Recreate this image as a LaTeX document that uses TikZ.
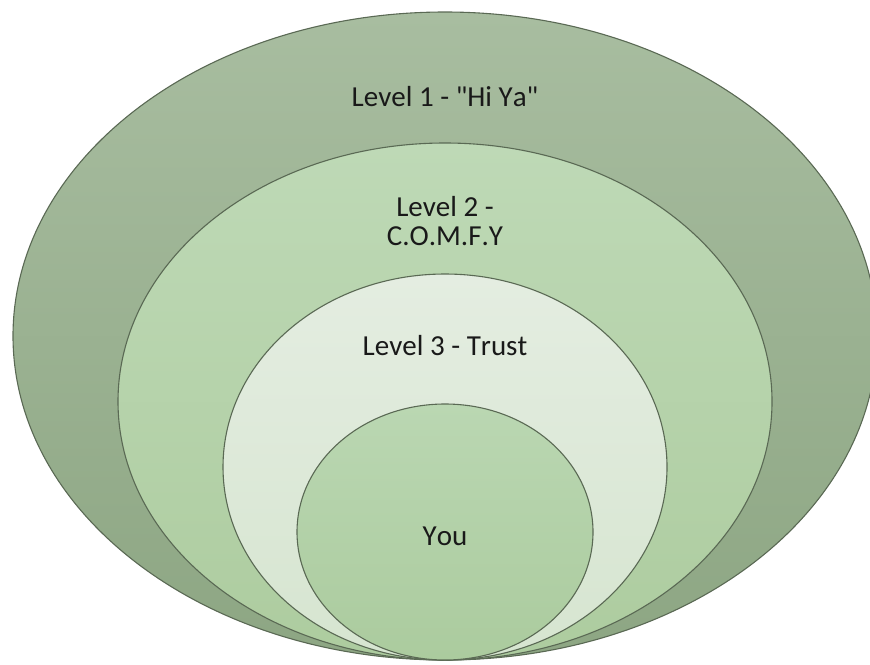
\documentclass[tikz,border=0pt]{standalone}
\usepackage{fontspec}
\setmainfont{Carlito}[Ligatures=TeXOff, Kerning=Off]
\usepackage{tikz}
\usetikzlibrary{
    positioning,             % For relative placement of nodes
    calc                     % For coordinate calculations
}

\definecolor{ringedge}{HTML}{5A6954}
\definecolor{lvlonetop}{HTML}{A8BDA0}
\definecolor{lvlonebot}{HTML}{8DA683}
\definecolor{lvltwotop}{HTML}{BED9B6}
\definecolor{lvltwobot}{HTML}{ADCC9F}
\definecolor{lvlthreetop}{HTML}{E4EDE1}
\definecolor{lvlthreebot}{HTML}{D6E5D0}
\definecolor{youtop}{HTML}{BAD7B2}
\definecolor{youbot}{HTML}{ABCB9E}

\begin{document}
\begin{tikzpicture}[
    x=0.5pt, y=-0.5pt,
    font=\fontsize{14.5}{14.5}\selectfont,
    ring/.style={draw=ringedge, line width=0.55pt},
    ringlabel/.style={align=center, text=black!90, inner sep=1pt}
]
    \useasboundingbox (0,0) rectangle (870,664);
    \clip (0,0) rectangle (870,664);

    % --- Level 1 ---
    \path[ring, top color=lvlonetop, bottom color=lvlonebot]
        (445,336) ellipse [x radius=432, y radius=324];
    \node[ringlabel] (level_one) at (445,97) {Level 1 - "Hi Ya"};

    % --- Level 2 ---
    \path[ring, top color=lvltwotop, bottom color=lvltwobot]
        (445,401.5) ellipse [x radius=327, y radius=258.5];
    \node[ringlabel] (level_two) at (445,221) {Level 2 -\\C.O.M.F.Y};

    % --- Level 3 ---
    \path[ring, top color=lvlthreetop, bottom color=lvlthreebot]
        (445,467) ellipse [x radius=222, y radius=193];
    \node[ringlabel] (level_three) at (445,346) {Level 3 - Trust};

    % --- You ---
    \path[ring, top color=youtop, bottom color=youbot]
        (445,532) ellipse [x radius=148, y radius=128];
    \node[ringlabel] (you) at (445,536) {You};
\end{tikzpicture}
\end{document}
